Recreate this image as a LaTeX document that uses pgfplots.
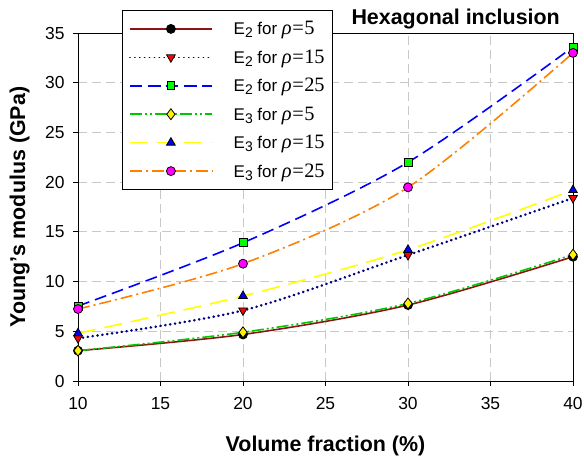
\documentclass[border=0pt]{standalone}
\usepackage{fontspec}
\setmainfont{Liberation Sans}
\newfontfamily\timesf{Liberation Serif}
\usepackage{pgfplots}
\pgfplotsset{compat=1.18}
\definecolor{dred}{RGB}{140,20,20}
\definecolor{navyc}{RGB}{0,0,128}
\definecolor{bluec}{RGB}{0,0,255}
\definecolor{greenc}{RGB}{0,200,0}
\definecolor{yellowc}{RGB}{255,255,0}
\definecolor{orangec}{RGB}{255,128,0}
\definecolor{magc}{RGB}{255,0,255}
\definecolor{gridc}{RGB}{200,200,200}
\newcommand{\rh}[1]{{\timesf\fontsize{20.5}{22}\selectfont\textit{ρ}\hspace{0.5bp}=\hspace{0.5bp}#1}}
\newcommand{\E}[1]{E\raisebox{-0.35ex}{\fontsize{14}{16}\selectfont #1}}
\begin{document}
\begin{tikzpicture}
\begin{axis}[
  scale only axis,
  width=495bp, height=348bp,
  xmin=10, xmax=40, ymin=0, ymax=35,
  xtick={10,15,...,40}, ytick={0,5,...,35},
  tick pos=left, tick align=outside,
  major tick length=5bp,
  /pgf/number format/assume math mode=true,
  tick label style={font=\fontsize{17.5}{20}\selectfont},
  xticklabel style={yshift=-8bp},
  yticklabel style={xshift=-5bp},
  grid=major,
  major grid style={gridc, line width=1pt, dash pattern=on 9bp off 5bp},
  axis line style={black, line width=0.9pt},
  every tick/.style={black, line width=0.9pt},
  xlabel={\textbf{Volume fraction (\%)}},
  ylabel={\textbf{Young's modulus (GPa)}},
  label style={font=\fontsize{21.5}{24}\selectfont},
  xlabel style={at={(axis description cs:0.5,-0.188)}, anchor=center},
  ylabel style={at={(axis description cs:-0.118,0.5)}, anchor=center},
  legend style={at={(rel axis cs:0.089,1.066)}, anchor=north west, draw=black, line width=0.9pt,
    font=\fontsize{17}{19}\selectfont, cells={anchor=west}, row sep=9.5bp, inner xsep=6bp, inner ysep=9bp},
  legend image code/.code={\path (0cm,0cm) (3.55cm,0cm);\draw[line width=1.6pt,mark repeat=2,mark phase=2,#1] plot coordinates {(0cm,0cm)(1.45cm,0cm)(2.9cm,0cm)};},
  every axis plot/.append style={smooth, line width=1.6pt},
  clip=false,
]
\addplot[dred, mark=*, mark size=4.5pt, mark options={solid, fill=black, draw=black, line width=0.8pt}]
  coordinates {(10,3.05) (20,4.68) (30,7.64) (40,12.5)};
\addlegendentry{\E{2} for \rh{5}}
\addplot[navyc, line width=2.6pt, line cap=round, dash pattern=on 0.3bp off 4.6bp, mark=triangle*, mark size=5pt, mark options={solid, fill=red, draw=black, line width=0.8pt, rotate=180, line cap=butt}]
  coordinates {(10,4.3) (20,7.1) (30,12.67) (40,18.4)};
\addlegendentry{\E{2} for \rh{15}}
\addplot[bluec, dash pattern=on 12bp off 6bp, mark=square*, mark size=4pt, mark options={solid, fill=green, draw=black, line width=0.8pt}]
  coordinates {(10,7.54) (20,13.9) (30,22.0) (40,33.6)};
\addlegendentry{\E{2} for \rh{25}}
\addplot[greenc, dash pattern=on 12bp off 3bp on 2bp off 3bp on 2bp off 3bp, mark=diamond*, mark size=5.5pt, mark options={solid, fill=yellow, draw=black, line width=0.8pt}]
  coordinates {(10,3.05) (20,4.9) (30,7.8) (40,12.7)};
\addlegendentry{\E{3} for \rh{5}}
\addplot[yellowc, dash pattern=on 18bp off 9bp, mark=triangle*, mark size=5pt, mark options={solid, fill=bluec, draw=black, line width=0.8pt}]
  coordinates {(10,4.8) (20,8.55) (30,13.2) (40,19.2)};
\addlegendentry{\E{3} for \rh{15}}
\addplot[orangec, dash pattern=on 12bp off 4bp on 2bp off 4bp, mark=*, mark size=4.5pt, mark options={solid, fill=magc, draw=black, line width=0.8pt}]
  coordinates {(10,7.24) (20,11.8) (30,19.48) (40,33.0)};
\addlegendentry{\E{3} for \rh{25}}
\node[anchor=base east, font=\bfseries\fontsize{21.5}{24}\selectfont, inner sep=0pt] at (rel axis cs:1,1) [yshift=9bp, xshift=-13bp] {Hexagonal inclusion};
\end{axis}
\pgfresetboundingbox
\path (current axis.south west) ++(-78bp,-79bp) rectangle ++(584bp,460bp);
\end{tikzpicture}
\end{document}
